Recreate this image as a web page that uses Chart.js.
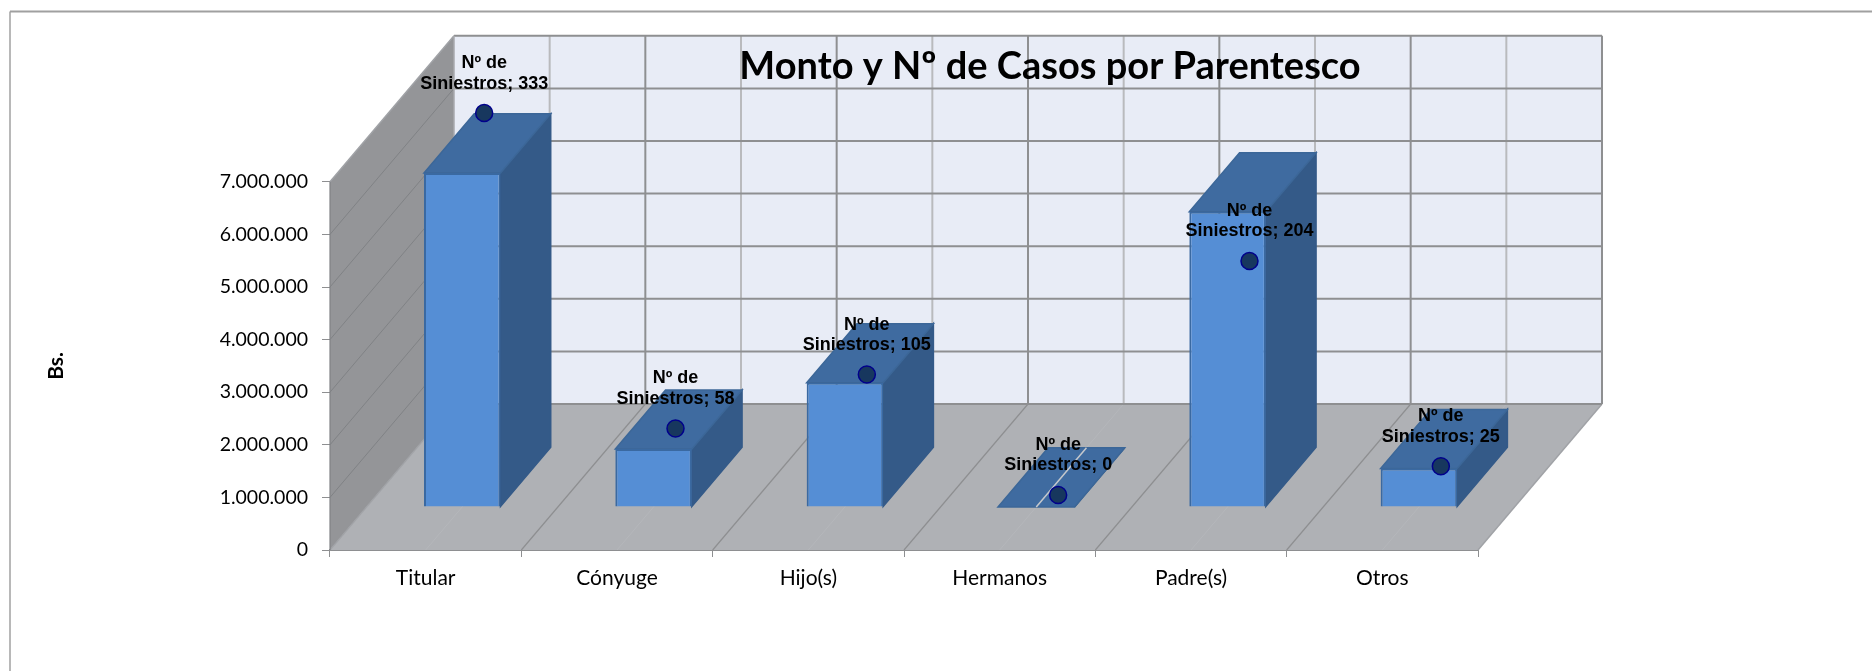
<!DOCTYPE html>
<html>

<head>
    <meta charset="utf-8">
    <title>Monto y Nº de Casos por Parentesco</title>
    <style>
        body {
            margin: 0;
            background-color: #fff;
        }

        canvas {
            display: block;
        }
    </style>
    <script src="https://cdn.jsdelivr.net/npm/chart.js"></script>
</head>

<body>
    <canvas id="parentesco_chart" width="1872" height="671"></canvas>

    <script>
        const categories = ['Titular', 'Cónyuge', 'Hijo(s)', 'Hermanos', 'Padre(s)', 'Otros'];
        const montoValues = [6350000, 1100000, 2360000, 0, 5610000, 730000];
        const casosValues = [333, 58, 105, 0, 204, 25];
        const yTickValues = [0, 1000000, 2000000, 3000000, 4000000, 5000000, 6000000, 7000000];
        const casosLabel = 'Nº de Siniestros';
        const chartTitle = 'Monto y Nº de Casos por Parentesco';
        const yAxisTitle = 'Bs.';

        // oblique projection of the 3D box, in pixels
        const DEPTH_X = 124;
        const DEPTH_Y = -146;
        const BAR_NEAR = 0.295;  // where the bars start along the depth
        const BAR_DEPTH = 0.405;
        const POINT_SHIFT = 58.5;
        const TOP_TICK = 7000000;

        const GRID_DARK = '#8e8f91';
        const GRID_LIGHT = '#b9babd';

        function poly(ctx, pts, fill, stroke) {
            ctx.beginPath();
            pts.forEach((p, i) => i ? ctx.lineTo(p[0], p[1]) : ctx.moveTo(p[0], p[1]));
            ctx.closePath();
            ctx.fillStyle = fill;
            ctx.fill();
            if (stroke) {
                ctx.strokeStyle = stroke;
                ctx.lineWidth = 1.5;
                ctx.stroke();
            }
        }

        function line(ctx, x1, y1, x2, y2, color, width) {
            ctx.beginPath();
            ctx.moveTo(x1, y1);
            ctx.lineTo(x2, y2);
            ctx.strokeStyle = color;
            ctx.lineWidth = width;
            ctx.stroke();
        }

        // frame, walls, floor and their gridlines
        const boxPlugin = {
            id: 'box',
            beforeDatasetsDraw(chart) {
                const ctx = chart.ctx;
                const x = chart.scales.x;
                const y = chart.scales.y;
                const left = x.left, right = x.right;
                const y0 = y.getPixelForValue(0);
                const yTop = y.getPixelForValue(TOP_TICK);
                const step = (right - left) / categories.length;

                ctx.save();
                // only the top and left of the outer frame are in the picture
                line(ctx, 10, 11.5, chart.width, 11.5, '#a0a0a0', 2);
                line(ctx, 10, 11.5, 10, chart.height, '#a0a0a0', 1.5);

                poly(ctx, [[left + DEPTH_X, yTop + DEPTH_Y], [right + DEPTH_X, yTop + DEPTH_Y],
                    [right + DEPTH_X, y0 + DEPTH_Y], [left + DEPTH_X, y0 + DEPTH_Y]], '#e8ecf6');
                poly(ctx, [[left, yTop], [left + DEPTH_X, yTop + DEPTH_Y],
                    [left + DEPTH_X, y0 + DEPTH_Y], [left, y0]], '#949598');
                poly(ctx, [[left, y0], [right, y0], [right + DEPTH_X, y0 + DEPTH_Y],
                    [left + DEPTH_X, y0 + DEPTH_Y]], '#afb1b5');

                // back wall verticals and floor lines, every half category
                for (let i = 0; i <= categories.length * 2; i++) {
                    const px = left + i * step / 2;
                    const major = i % 2 === 0;
                    const edge = i === 0 || i === categories.length * 2;
                    if (i > 0) {
                        line(ctx, px + DEPTH_X, yTop + DEPTH_Y, px + DEPTH_X, y0 + DEPTH_Y,
                            major ? GRID_DARK : GRID_LIGHT, 2);
                    }
                    if (!major) {
                        line(ctx, px, y0, px + DEPTH_X, y0 + DEPTH_Y, '#b5b7bb', 1);
                    } else if (!edge) {
                        line(ctx, px, y0, px + DEPTH_X, y0 + DEPTH_Y, GRID_DARK, 1.2);
                    }
                }
                line(ctx, right, y0, right + DEPTH_X, y0 + DEPTH_Y, '#a0a2a6', 1.5);

                // horizontal lines on both walls
                y.ticks.forEach(t => {
                    const py = y.getPixelForValue(t.value);
                    line(ctx, left + DEPTH_X, py + DEPTH_Y, right + DEPTH_X, py + DEPTH_Y, GRID_DARK, 2);
                    if (t.value > 0 && t.value < TOP_TICK) {
                        line(ctx, left, py, left + DEPTH_X, py + DEPTH_Y, '#808285', 1);
                    }
                });
                line(ctx, left, yTop, left + DEPTH_X, yTop + DEPTH_Y, '#a0a2a6', 1.5);
                line(ctx, left + DEPTH_X, yTop + DEPTH_Y, left + DEPTH_X, y0 + DEPTH_Y, '#a8aaae', 1.5);
                line(ctx, left, y0, left + DEPTH_X, y0 + DEPTH_Y, '#a0a2a6', 1.2);
                line(ctx, left, yTop, left, y0, '#808285', 1.2);
                ctx.restore();
            },
            // the bars sit inside the box, the cases points on their own plane
            beforeDatasetDraw(chart, args) {
                const ctx = chart.ctx;
                ctx.save();
                if (args.meta.type === 'bar') {
                    ctx.translate(BAR_NEAR * DEPTH_X, BAR_NEAR * DEPTH_Y);
                    const dx = BAR_DEPTH * DEPTH_X;
                    const dy = BAR_DEPTH * DEPTH_Y;
                    args.meta.data.forEach(bar => {
                        const l = bar.x - bar.width / 2;
                        const r = bar.x + bar.width / 2;
                        poly(ctx, [[r, bar.y], [r + dx, bar.y + dy], [r + dx, bar.base + dy], [r, bar.base]], '#345a88', '#345a88');
                        poly(ctx, [[l, bar.y], [r, bar.y], [r + dx, bar.y + dy], [l + dx, bar.y + dy]], '#3f6ba0', '#3c6798');
                        if (bar.base - bar.y < 1) {
                            line(ctx, bar.x, bar.y, bar.x + dx, bar.y + dy, '#c5c8cc', 1.5);
                        }
                    });
                } else {
                    ctx.translate(POINT_SHIFT, 0);
                }
            },
            afterDatasetDraw(chart) {
                chart.ctx.restore();
            },
            afterDraw(chart) {
                const ctx = chart.ctx;
                const y = chart.scales.y;
                ctx.save();
                ctx.textAlign = 'center';
                ctx.textBaseline = 'middle';
                ctx.fillStyle = '#000';

                ctx.font = 'bold 18px "Liberation Sans"';
                chart.getDatasetMeta(0).data.forEach((pt, i) => {
                    ctx.fillText('Nº de', pt.x + POINT_SHIFT, pt.y - 50);
                    ctx.fillText('Siniestros; ' + casosValues[i], pt.x + POINT_SHIFT, pt.y - 29.5);
                });

                ctx.font = 'bold 38px Lato';
                ctx.fillText(chartTitle, 1050, 67);

                ctx.font = 'bold 21px Lato';
                ctx.translate(56, (y.getPixelForValue(0) + y.getPixelForValue(TOP_TICK)) / 2);
                ctx.rotate(-Math.PI / 2);
                ctx.fillText(yAxisTitle, 0, 0);
                ctx.restore();
            }
        };

        new Chart(document.getElementById('parentesco_chart'), {
            type: 'bar',
            data: {
                labels: categories,
                datasets: [{
                    type: 'line',
                    label: casosLabel,
                    data: casosValues,
                    yAxisID: 'yCasos',
                    order: 0,
                    clip: false,
                    showLine: false,
                    pointRadius: 8.5,
                    pointBorderWidth: 1.5,
                    pointBackgroundColor: '#17375e',
                    pointBorderColor: '#00008b'
                }, {
                    label: 'Monto',
                    data: montoValues,
                    order: 1,
                    clip: false,
                    backgroundColor: '#558ed5',
                    borderColor: '#3a69a1',
                    borderWidth: 2,
                    categoryPercentage: 1,
                    barPercentage: 0.4
                }]
            },
            options: {
                responsive: false,
                animation: false,
                layout: { padding: { top: 36, right: 394 } },
                plugins: {
                    legend: { display: false },
                    tooltip: { enabled: false }
                },
                scales: {
                    x: {
                        afterFit(scale) { scale.height = 121; },
                        grid: { drawOnChartArea: false, color: GRID_DARK, tickLength: 7, offset: true },
                        border: { color: GRID_DARK, width: 2 },
                        ticks: { color: '#000', font: { family: 'Lato', size: 21 }, padding: 9, maxRotation: 0 }
                    },
                    y: {
                        min: 0,
                        max: 9772000,
                        afterFit(scale) { scale.width = 330; },
                        afterBuildTicks(scale) { scale.ticks = yTickValues.map(value => ({ value })); },
                        grid: { drawOnChartArea: false, color: GRID_DARK, tickLength: 8 },
                        border: { display: false },
                        ticks: {
                            color: '#000',
                            font: { family: 'Lato', size: 19.5 },
                            padding: 14,
                            callback: value => value.toLocaleString('de-DE')
                        }
                    },
                    yCasos: {
                        display: false,
                        min: -47.95,
                        max: 400.2
                    }
                }
            },
            plugins: [boxPlugin]
        });
    </script>
</body>

</html>
